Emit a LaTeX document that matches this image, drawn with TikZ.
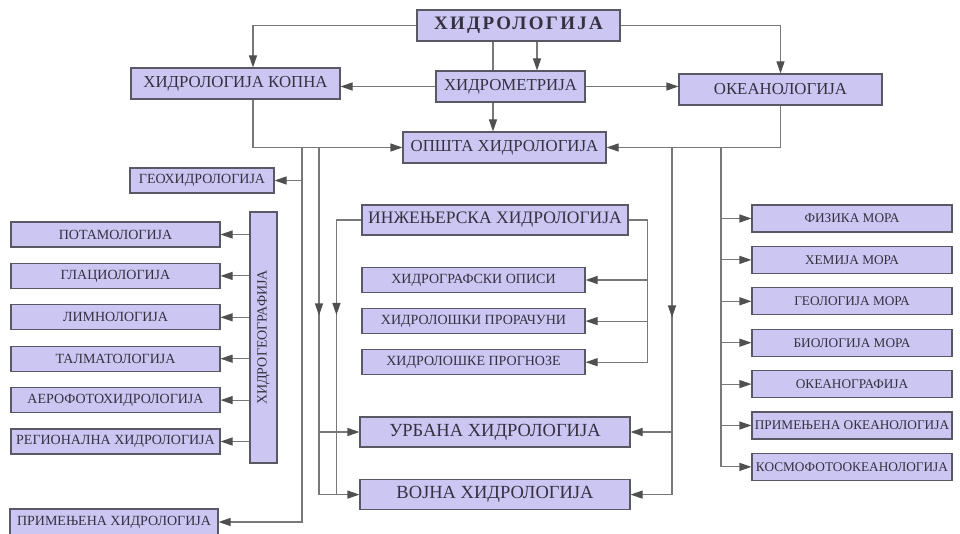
\documentclass[tikz,border=0pt]{standalone}
\usepackage{fontspec}
\setmainfont{Liberation Serif}
\usetikzlibrary{positioning,arrows.meta,decorations.markings}

\definecolor{boxfill}{RGB}{203,199,242}
\definecolor{boxline}{RGB}{90,88,100}
\definecolor{linegray}{RGB}{120,120,120}
\definecolor{tipgray}{RGB}{80,80,80}
\definecolor{txt}{RGB}{55,48,65}

\tikzset{
  Tri/.tip={Triangle[length=12pt,width=8pt,color=tipgray]},
  box/.style={draw=boxline, line width=1.1pt, fill=boxfill, text=txt, inner sep=0pt, minimum height=25pt},
  bigbox/.style={box, font=\fontsize{16.8}{16.8}\selectfont, minimum height=31pt},
  smallbox/.style={box, font=\fontsize{14}{14}\selectfont},
  seabox/.style={box, font=\fontsize{13.3}{13.3}\selectfont, minimum width=200pt, minimum height=27pt},
  link/.style={draw=linegray, line width=1.1pt},
  arr/.style={link, -Tri},
  midarr/.style={link, postaction={decorate}, decoration={markings, mark=at position #1 with {\arrow{Tri}}}}
}

\begin{document}
\begin{tikzpicture}[x=1pt, y=-1pt]
\useasboundingbox (0,0) rectangle (960,534);

\node[style=bigbox, minimum width=203pt, font=\fontsize{19}{19}\selectfont\bfseries\addfontfeature{LetterSpace=12}](HL) at (518.5,25.5){ХИДРОЛОГИЈА};
\node[style=bigbox, minimum width=209pt](HK) at (235.5,83.5){ХИДРОЛОГИЈА КОПНА};
\node[style=bigbox, minimum width=149pt](HM) at (510.5,86.5){ХИДРОМЕТРИЈА};
\node[style=bigbox, minimum width=203pt](OK) at (780.5,89.5){ОКЕАНОЛОГИЈА};
\node[style=bigbox, minimum width=203pt](OH) at (504.5,147.5){ОПШТА ХИДРОЛОГИЈА};

\node[style=smallbox, minimum width=144pt](GH) at (202,180.5){ГЕОХИДРОЛОГИЈА};
\node[style=smallbox, rotate=90, minimum width=251pt, minimum height=27pt](HG) at (263.5,337.5){ХИДРОГЕОГРАФИЈА};
\node[style=smallbox, minimum width=209pt](PT) at (115.5,234.5){ПОТАМОЛОГИЈА};
\node[style=smallbox, minimum width=209pt, below=15.3pt of PT](GL){ГЛАЦИОЛОГИЈА};
\node[style=smallbox, minimum width=209pt, below=15.3pt of GL](LM){ЛИМНОЛОГИЈА};
\node[style=smallbox, minimum width=209pt, below=15.3pt of LM](TM){ТАЛМАТОЛОГИЈА};
\node[style=smallbox, minimum width=209pt, below=15.3pt of TM](AF){АЕРОФОТОХИДРОЛОГИЈА};
\node[style=smallbox, minimum width=209pt, below=15.3pt of AF](RH){РЕГИОНАЛНА ХИДРОЛОГИЈА};
\node[style=smallbox, minimum width=208pt, minimum height=26pt](PH) at (114,522){ПРИМЕЊЕНА ХИДРОЛОГИЈА};

\node[style=bigbox, minimum width=266pt, minimum height=30pt, font=\fontsize{17.5}{17.5}\selectfont](IH) at (495,220){ИНЖЕЊЕРСКА ХИДРОЛОГИЈА};
\node[style=smallbox, minimum width=223pt](HO) at (473.5,280){ХИДРОГРАФСКИ ОПИСИ};
\node[style=smallbox, minimum width=223pt, below=15pt of HO](HP){ХИДРОЛОШКИ ПРОРАЧУНИ};
\node[style=smallbox, minimum width=223pt, below=15pt of HP](HPG){ХИДРОЛОШКЕ ПРОГНОЗЕ};
\node[style=bigbox, minimum width=270pt, minimum height=30pt, font=\fontsize{18.5}{18.5}\selectfont](UH) at (495,432){УРБАНА ХИДРОЛОГИЈА};
\node[style=bigbox, minimum width=270pt, minimum height=30pt, font=\fontsize{18.5}{18.5}\selectfont, below=31.5pt of UH](VH){ВОЈНА ХИДРОЛОГИЈА};

\node[style=seabox](FM) at (852,218.5){ФИЗИКА МОРА};
\node[style=seabox, below=13.3pt of FM](HeM){ХЕМИЈА МОРА};
\node[style=seabox, below=13.3pt of HeM](GM){ГЕОЛОГИЈА МОРА};
\node[style=seabox, below=13.3pt of GM](BM){БИОЛОГИЈА МОРА};
\node[style=seabox, below=13.3pt of BM](OG){ОКЕАНОГРАФИЈА};
\node[style=seabox, below=13.3pt of OG](PO){ПРИМЕЊЕНА ОКЕАНОЛОГИЈА};
\node[style=seabox, below=13.3pt of PO](KO){КОСМОФОТООКЕАНОЛОГИЈА};

\coordinate (LA) at (302,147.5);
\coordinate (LB) at (319,147.5);
\coordinate (LD) at (672,147.5);
\coordinate (LE) at (721,147.5);

\draw[arr] (HL.west) -| ([xshift=17.5pt]HK.north);
\draw[arr] (HL.east) -| (OK.north);
\draw[link] ([xshift=-25.5pt]HL.south) -- ([xshift=-25.5pt]HL.south |- HM.north);
\draw[arr] ([xshift=18.5pt]HL.south) -- ([xshift=18.5pt]HL.south |- HM.north);
\draw[arr] ([xshift=-17.5pt]HM.south) -- ([xshift=-17.5pt]HM.south |- OH.north);
\draw[arr] (HM.west) -- (HM.west -| HK.east);
\draw[arr] (HM.east) -- (HM.east -| OK.west);
\draw[arr] ([xshift=17.5pt]HK.south) |- (OH.west);
\draw[arr] (OK.south) |- (OH.east);

\draw[arr] (LA) |- (PH.east);
\draw[arr] (LA |- GH.east) -- (GH.east);
\foreach \n in {PT,GL,LM,TM,AF,RH} \draw[arr] (HG.north |- \n.east) -- (\n.east);

\draw[arr, midarr=168pt] (LB) |- (VH.west);
\draw[arr] (LB |- UH.west) -- (UH.west);
\draw[midarr=120pt] (IH.west) -- ++(-25,0) -- ([xshift=-25pt]IH.west |- VH.west);

\draw[arr] (IH.east) -- ++(19,0) |- (HPG.east);
\draw[arr] ([xshift=19pt]IH.east |- HO.east) -- (HO.east);
\draw[arr] ([xshift=19pt]IH.east |- HP.east) -- (HP.east);

\draw[arr, midarr=170pt] (LD) |- (VH.east);
\draw[arr] (LD |- UH.east) -- (UH.east);

\draw[arr] (LE) |- (KO.west);
\foreach \n in {FM,HeM,GM,BM,OG,PO} \draw[arr] (LE |- \n.west) -- (\n.west);
\end{tikzpicture}
\end{document}
